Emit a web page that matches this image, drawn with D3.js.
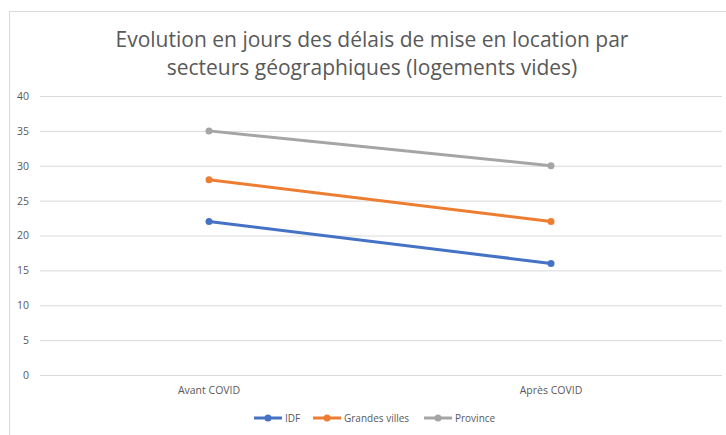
<!DOCTYPE html>
<html>
<head>
<meta charset="utf-8">
<script src="https://cdn.jsdelivr.net/npm/d3@7"></script>
<style>
  body { margin: 0; background: #fff; }
  text { font-family: "Open Sans", "Liberation Sans", sans-serif; }
</style>
</head>
<body>
<svg id="canvas" width="726" height="435"></svg>
<script>
/************* Data **************/
var categories = ["Avant COVID", "Après COVID"];
var seriesNames = ["IDF", "Grandes villes", "Province"];
var idfValues = [22, 16];
var grandesVillesValues = [28, 22];
var provinceValues = [35, 30];
var yTicks = [0, 5, 10, 15, 20, 25, 30, 35, 40];
var titleLines = ["Evolution en jours des délais de mise en location par",
                  "secteurs géographiques (logements vides)"];

var colors = ["#4472c4", "#ed7d31", "#a5a5a5"];
var series = [idfValues, grandesVillesValues, provinceValues].map(function(v, i) {
    return { name: seriesNames[i], values: v, color: colors[i] };
});

/********** Initialisation *********/
var svg = d3.select("#canvas");

// chart frame
svg.append("rect")
    .attr("x", 9.5).attr("y", 11.5)
    .attr("width", 740).attr("height", 440)
    .attr("fill", "none")
    .attr("stroke", "#d9d9d9");

// title
svg.append("g").selectAll("text")
    .data(titleLines)
    .enter()
    .append("text")
    .attr("x", 372)
    .attr("y", function(d, i) { return 47 + i * 28; })
    .attr("text-anchor", "middle")
    .attr("font-size", 21)
    .attr("fill", "#595959")
    .text(function(d) { return d; });

/*********** Scales *************/
var x = d3.scaleBand().domain(categories).range([38, 722]);
var y = d3.scaleLinear().domain([0, 40]).range([375, 96]);

// gridlines
svg.append("g")
    .attr("transform", "translate(38,0)")
    .call(d3.axisLeft(y).tickValues(yTicks).tickSize(-684).tickPadding(9))
    .call(function(g) {
        g.select(".domain").remove();
        g.selectAll(".tick line").attr("stroke", "#d9d9d9").attr("x1", 2);
        g.selectAll(".tick text")
            .attr("fill", "#595959")
            .attr("font-size", 10.5);
    });

// category axis
svg.append("g")
    .attr("transform", "translate(0,375)")
    .call(d3.axisBottom(x).tickSize(0).tickPadding(12))
    .call(function(g) {
        g.select(".domain").remove();
        g.selectAll(".tick text")
            .attr("fill", "#595959")
            .attr("font-size", 10.5);
    });

/********** Lines ***********/
var line = d3.line()
    .x(function(d, i) { return x(categories[i]) + x.bandwidth() / 2; })
    .y(function(d) { return y(d); });

var g = svg.append("g");

g.selectAll("path.series")
    .data(series)
    .enter()
    .append("path")
    .attr("class", "series")
    .attr("d", function(d) { return line(d.values); })
    .attr("fill", "none")
    .attr("stroke", function(d) { return d.color; })
    .attr("stroke-width", 3);

series.forEach(function(s) {
    g.selectAll(null)
        .data(s.values)
        .enter()
        .append("circle")
        .attr("cx", function(d, i) { return x(categories[i]) + x.bandwidth() / 2; })
        .attr("cy", function(d) { return y(d); })
        .attr("r", 3.5)
        .attr("fill", s.color);
});

/********** Legend ***********/
var legendX = [254, 313, 424];
var legend = svg.append("g")
    .selectAll("g")
    .data(series)
    .enter()
    .append("g")
    .attr("transform", function(d, i) { return "translate(" + legendX[i] + ",418)"; });

legend.append("line")
    .attr("x1", 0).attr("x2", 28)
    .attr("stroke", function(d) { return d.color; })
    .attr("stroke-width", 3);

legend.append("circle")
    .attr("cx", 14).attr("r", 3.5)
    .attr("fill", function(d) { return d.color; });

legend.append("text")
    .attr("x", 31)
    .attr("dy", "0.35em")
    .attr("font-size", 10)
    .attr("fill", "#595959")
    .text(function(d) { return d.name; });
</script>
</body>
</html>
